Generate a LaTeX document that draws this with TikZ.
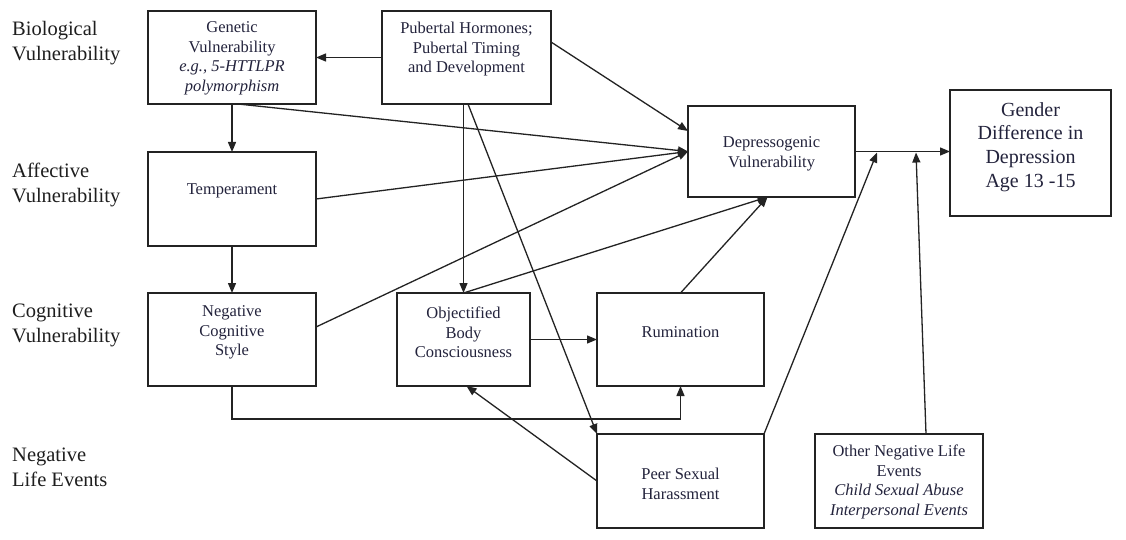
\documentclass[tikz,border=0pt]{standalone}
\usepackage{fontspec}
\setmainfont{Liberation Serif}
\usetikzlibrary{arrows.meta}
\definecolor{linec}{RGB}{35,35,35}
\definecolor{txtc}{RGB}{35,35,60}
\definecolor{lblc}{RGB}{30,30,30}
\begin{document}
\begin{tikzpicture}[x=1pt,y=-1pt,
  box/.style={draw=linec, line width=1.4pt, inner sep=0pt, outer sep=0pt},
  txt/.style={text=txtc, align=center, font=\fontsize{16.5}{19.5}\selectfont, inner sep=0pt},
  bigtxt/.style={text=txtc, align=center, font=\fontsize{20}{23.7}\selectfont, inner sep=0pt},
  lbl/.style={text=lblc, align=left, anchor=west, font=\fontsize{20.5}{24.5}\selectfont, inner sep=0pt},
  arr/.style={draw=linec, line width=1.3pt, -{Triangle[length=10pt,width=8pt]}},
  ln/.style={draw=linec, line width=1.3pt}]
\useasboundingbox[fill=white] (0,0) rectangle (1126,540);

% row labels
\node[lbl] (lbio) at (12,43) {Biological\\Vulnerability};
\node[lbl] (laff) at (12,185) {Affective\\Vulnerability};
\node[lbl] (lcog) at (12,325.5) {Cognitive\\Vulnerability};
\node[lbl] (lneg) at (12,467.5) {Negative\\Life Events};

% boxes
\node[box, minimum width=168pt, minimum height=93pt] (gen) at (232,57.5) {};
\node[box, minimum width=169pt, minimum height=93pt] (pub) at (466.5,57.5) {};
\node[box, minimum width=168pt, minimum height=94pt] (temp) at (232,199) {};
\node[box, minimum width=168pt, minimum height=93pt] (neg) at (232,339.5) {};
\node[box, minimum width=133pt, minimum height=93pt] (obj) at (463.5,339.5) {};
\node[box, minimum width=167pt, minimum height=93pt] (rum) at (680.5,339.5) {};
\node[box, minimum width=167pt, minimum height=94pt] (peer) at (680.5,481) {};
\node[box, minimum width=168pt, minimum height=94pt] (oth) at (899,481) {};
\node[box, minimum width=167pt, minimum height=91pt] (dep) at (771.5,151.5) {};
\node[box, minimum width=161pt, minimum height=126pt] (gout) at (1030.5,153) {};

% box texts
\node[txt] (tgen) at (232,58.3) {Genetic\\Vulnerability\\\textit{e.g., 5-HTTLPR}\\\textit{polymorphism}};
\node[txt] (tpub) at (466.5,49.5) {Pubertal Hormones;\\Pubertal Timing\\and Development};
\node[txt] (ttemp) at (232,190.7) {Temperament};
\node[txt] (tneg) at (232,332.5) {Negative\\Cognitive\\Style};
\node[txt] (tobj) at (463.5,332.5) {Objectified\\Body\\Consciousness};
\node[txt] (trum) at (680.5,331.7) {Rumination};
\node[txt] (tpeer) at (680.5,484) {Peer Sexual\\Harassment};
\node[txt] (toth) at (899,481.7) {Other Negative Life\\Events\\\textit{Child Sexual Abuse}\\\textit{Interpersonal Events}};
\node[txt] (tdep) at (771.5,153.7) {Depressogenic\\Vulnerability};
\node[bigtxt] (tgout) at (1030.5,147) {Gender\\Difference in\\Depression\\Age 13 -15};

% merge points on the output line
\coordinate (m1) at (877,152.5);
\coordinate (m2) at (916,152.5);
\coordinate (bend) at (680.5,419);

% connectors
\draw[arr] (pub.west) -- (gen.east);
\draw[arr] (gen.south) -- (temp.north);
\draw[arr] (temp.south) -- (neg.north);
\draw[arr] ([xshift=6pt]gen.south) -- (dep.west);
\draw[arr] (temp.east) -- (dep.west);
\draw[arr] ([yshift=12.5pt]neg.east) -- (dep.west);
\draw[arr] ([yshift=15.5pt]pub.east) -- ([yshift=20.5pt]dep.west);
\draw[arr] (pub.south -| obj.north) -- (obj.north);
\draw[arr] ([xshift=1.5pt]pub.south) -- (peer.north west);
\draw[arr] (obj.north) -- ([xshift=-4pt]dep.south);
\draw[arr] (rum.north) -- ([xshift=-4pt]dep.south);
\draw[arr] (obj.east) -- (rum.west);
\draw[arr] (neg.south) |- (bend) -- (rum.south);
\draw[arr] (peer.west) -- ([xshift=3pt]obj.south);
\draw[arr] (peer.north east) -- (m1);
\draw[arr] ([xshift=27pt]oth.north) -- (m2);
\draw[arr] (dep.east) -- (dep.east -| gout.west);
\end{tikzpicture}
\end{document}
